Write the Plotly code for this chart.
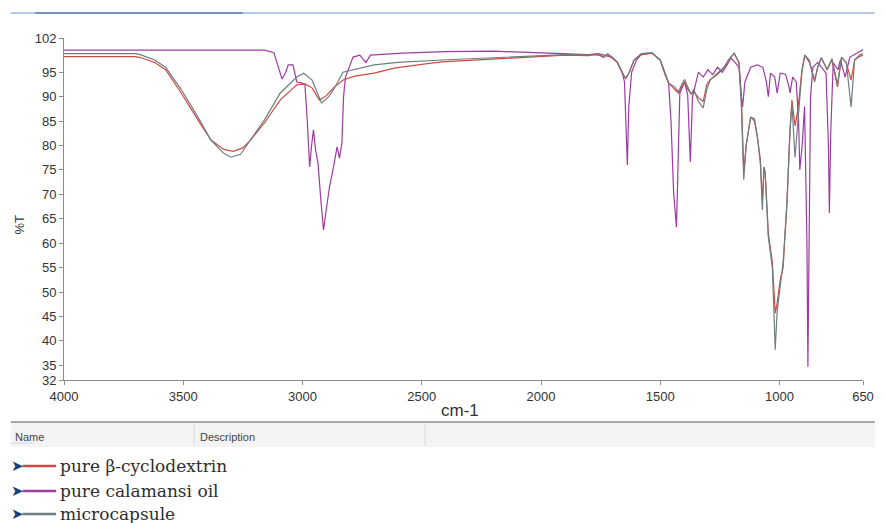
import plotly.graph_objects as go

# ---------------- data ----------------
series_names = ["pure β-cyclodextrin", "pure calamansi oil", "microcapsule"]
series_colors = ["#cf4a44", "#9c3ca3", "#6f7d80"]

wn_beta = [4000, 3700, 3680, 3620, 3574, 3508, 3438, 3384, 3330, 3290, 3250, 3218, 3160, 3094,
           3024, 2990, 2960, 2929, 2900, 2870, 2830, 2780, 2700, 2610, 2500, 2416, 2300, 2200,
           2100, 2000, 1900, 1800, 1760, 1740, 1720, 1700, 1680, 1660, 1645, 1630, 1610, 1580,
           1535, 1500, 1480, 1465, 1440, 1423, 1410, 1398, 1385, 1370, 1360, 1340, 1320, 1305,
           1290, 1260, 1233, 1215, 1204, 1190, 1170, 1160, 1150, 1140, 1121, 1105, 1093, 1080,
           1072, 1065, 1060, 1047, 1030, 1018, 1010, 997, 985, 969, 956, 948, 940, 935, 923,
           906, 894, 875, 853, 840, 825, 800, 780, 757, 740, 720, 700, 685, 665, 650]
t_beta = [98.2, 98.2, 98.0, 97.0, 95.5, 90.7, 85.2, 81.1, 79.2, 78.8, 79.5, 81.1, 84.6, 89.3,
          92.4, 92.6, 91.8, 89.3, 90.2, 91.8, 93.4, 94.2, 94.8, 95.9, 96.6, 97.1, 97.4, 97.7,
          97.9, 98.2, 98.5, 98.4, 98.8, 98.0, 98.6, 97.8, 97.0, 95.0, 93.6, 95.0, 97.5, 98.6,
          98.9, 97.5, 95.0, 92.8, 91.5, 90.7, 92.0, 93.0, 91.5, 90.5, 91.0, 89.8, 89.0, 92.5,
          93.5, 94.5, 96.0, 97.0, 98.1, 98.8, 97.0, 90.0, 74.5, 80.0, 85.8, 85.0, 81.7, 77.0,
          68.5, 75.6, 74.5, 62.0, 56.0, 45.7, 47.8, 52.5, 55.0, 68.2, 83.2, 89.3, 86.0, 84.0, 87.3,
          95.5, 98.5, 97.0, 93.4, 96.0, 97.9, 95.5, 97.5, 92.0, 98.1, 96.9, 93.4, 97.5, 98.2, 98.5]

wn_oil = [4000, 3800, 3500, 3160, 3120, 3100, 3086, 3070, 3060, 3040, 3030, 3024, 3005, 2990,
          2980, 2970, 2962, 2954, 2945, 2935, 2925, 2912, 2900, 2887, 2867, 2855, 2845, 2835,
          2828, 2820, 2788, 2760, 2734, 2715, 2580, 2400, 2200, 2000, 1900, 1800, 1760, 1720,
          1700, 1680, 1660, 1650, 1645, 1638, 1632, 1620, 1600, 1580, 1535, 1500, 1480, 1465,
          1455, 1444, 1432, 1425, 1418, 1398, 1385, 1374, 1365, 1340, 1320, 1300, 1280, 1260,
          1240, 1220, 1204, 1185, 1170, 1160, 1155, 1145, 1121, 1093, 1070, 1055, 1047, 1038,
          1020, 1010, 997, 975, 960, 956, 945, 930, 920, 915, 905, 895, 885, 881, 875, 870, 860,
          840, 805, 795, 791, 785, 775, 755, 745, 725, 705, 665, 650]
t_oil = [99.5, 99.5, 99.5, 99.5, 99.0, 96.0, 93.6, 95.0, 96.5, 96.5, 94.5, 93.0, 92.8, 92.5,
         85.0, 75.6, 80.0, 83.2, 79.0, 76.4, 70.0, 62.7, 67.0, 71.5, 76.4, 79.7, 77.4, 80.5,
         89.9, 94.0, 98.1, 98.5, 97.0, 98.5, 98.9, 99.2, 99.3, 99.0, 98.8, 98.6, 98.8, 98.2,
         98.0, 97.0, 95.0, 93.0, 85.0, 76.0, 88.0, 95.0, 97.5, 98.6, 98.9, 97.5, 94.5, 92.8,
         85.0, 70.3, 63.3, 80.0, 90.7, 93.0, 90.3, 76.6, 89.9, 95.0, 94.0, 95.5, 94.5, 96.0,
         95.0, 96.5, 97.9, 96.9, 96.0, 90.0, 87.9, 93.0, 96.0, 96.5, 96.0, 93.0, 90.0, 94.8,
         94.0, 90.7, 94.8, 94.6, 92.0, 90.7, 94.0, 93.0, 85.0, 75.0, 80.0, 88.0, 60.0, 34.7,
         60.0, 90.0, 96.0, 97.0, 94.8, 80.0, 66.2, 83.0, 96.9, 95.5, 97.5, 94.0, 98.1, 99.2, 99.6]

wn_micro = [4000, 3700, 3680, 3620, 3574, 3508, 3438, 3384, 3330, 3301, 3260, 3218, 3160, 3094,
            3024, 2995, 2960, 2920, 2890, 2870, 2830, 2700, 2600, 2416, 2200, 2000, 1900, 1800,
            1760, 1740, 1720, 1700, 1680, 1660, 1645, 1630, 1610, 1580, 1535, 1500, 1480, 1465,
            1440, 1423, 1410, 1398, 1385, 1370, 1360, 1340, 1320, 1305, 1290, 1260, 1233, 1215,
            1204, 1190, 1170, 1160, 1150, 1140, 1121, 1105, 1093, 1080, 1072, 1065, 1060, 1047,
            1030, 1018, 1010, 997, 985, 969, 956, 948, 940, 935, 923, 906, 894, 875, 853, 840,
            825, 800, 780, 757, 740, 720, 700, 685, 665, 650]
t_micro = [98.8, 98.8, 98.6, 97.5, 96.0, 91.4, 85.8, 81.1, 78.4, 77.6, 78.2, 81.1, 85.2, 90.7,
           94.0, 94.8, 93.4, 88.7, 90.0, 91.4, 95.0, 96.5, 97.0, 97.5, 98.0, 98.4, 98.6, 98.6,
           98.5, 98.2, 98.8, 98.0, 97.0, 95.0, 93.8, 95.0, 97.5, 98.8, 99.0, 97.5, 95.0, 92.8,
           92.0, 91.0, 92.5, 93.5, 92.0, 90.5, 91.5, 89.0, 87.7, 91.5, 93.5, 94.8, 96.0, 97.5,
           98.1, 98.9, 97.0, 88.0, 73.0, 80.0, 85.8, 85.5, 82.0, 76.0, 66.8, 75.6, 74.0, 61.3,
           55.0, 38.2, 46.0, 51.0, 56.0, 68.0, 83.0, 88.5, 82.0, 77.6, 85.0, 95.0, 98.5, 97.5,
           93.0, 96.0, 98.0, 95.5, 97.8, 92.5, 98.0, 97.0, 87.9, 97.5, 98.5, 98.8]

x_ticks = [4000, 3500, 3000, 2500, 2000, 1500, 1000, 650]
y_ticks = [32, 35, 40, 45, 50, 55, 60, 65, 70, 75, 80, 85, 90, 95, 102]
x_title = "cm-1"
y_title = "%T"
header_labels = ["Name", "Description"]

# ---------------- figure ----------------
W, H = 886, 523
ML, MR, MT, MB = 64, 12, 38, 143
PW, PH = W - ML - MR, H - MT - MB


def px(x):
    return (x - ML) / PW


def py(y):
    return (H - MB - y) / PH


fig = go.Figure()
for wn, t, name, col in [(wn_oil, t_oil, series_names[1], series_colors[1]),
                         (wn_beta, t_beta, series_names[0], series_colors[0]),
                         (wn_micro, t_micro, series_names[2], series_colors[2])]:
    fig.add_trace(go.Scatter(x=wn, y=t, mode="lines", name=name,
                             line=dict(color=col, width=1.2), showlegend=False))

tick_font = dict(family="Liberation Sans Narrow, Arial Narrow, Liberation Sans, Arial",
                 size=13, color="#333333")

fig.update_layout(
    width=W, height=H,
    margin=dict(l=ML, r=MR, t=MT, b=MB),
    paper_bgcolor="white", plot_bgcolor="white",
    xaxis=dict(range=[4000, 650], tickvals=x_ticks, ticktext=[str(v) for v in x_ticks],
               showgrid=False, zeroline=False, showline=True, linecolor="#8c8c8c",
               linewidth=1, ticks="outside", ticklen=4, tickcolor="#8c8c8c",
               tickfont=tick_font),
    yaxis=dict(range=[32, 102], tickvals=y_ticks, ticktext=[str(v) for v in y_ticks],
               showgrid=False, zeroline=False, showline=True, linecolor="#8c8c8c",
               linewidth=1, ticks="outside", ticklen=4, tickcolor="#8c8c8c",
               tickfont=tick_font),
)

shapes = []
annos = []

# top blue bar
shapes.append(dict(type="line", xref="paper", yref="paper", x0=px(10), x1=px(886),
                   y0=py(13), y1=py(13), line=dict(color="#b4c8ea", width=2)))
shapes.append(dict(type="line", xref="paper", yref="paper", x0=px(35), x1=px(245),
                   y0=py(13), y1=py(13), line=dict(color="#7391c4", width=2)))

# axis titles
annos.append(dict(text=x_title, xref="paper", yref="paper", x=px(465), y=py(410),
                  xanchor="center", yanchor="middle", showarrow=False,
                  font=dict(family="Liberation Sans Narrow, Liberation Sans, Arial",
                            size=17, color="#333333")))
annos.append(dict(text=y_title, xref="paper", yref="paper", x=px(18), y=py(225),
                  xanchor="center", yanchor="middle", showarrow=False, textangle=-90,
                  font=dict(family="Liberation Sans, Arial", size=13, color="#333333")))

# table header
shapes.append(dict(type="rect", xref="paper", yref="paper", x0=px(10), x1=px(886),
                   y0=py(447), y1=py(423), fillcolor="#f4f4f4", line=dict(width=0), layer="below"))
shapes.append(dict(type="line", xref="paper", yref="paper", x0=px(10), x1=px(886),
                   y0=py(422), y1=py(422), line=dict(color="#a6a6a6", width=2)))
for sx in [196, 430]:
    shapes.append(dict(type="line", xref="paper", yref="paper", x0=px(sx), x1=px(sx),
                       y0=py(446), y1=py(424), line=dict(color="#dadada", width=1)))
shapes.append(dict(type="line", xref="paper", yref="paper", x0=px(10), x1=px(34),
                   y0=py(443), y1=py(443), line=dict(color="#c9d8ee", width=1)))
for lbl, lx in zip(header_labels, [12, 200]):
    annos.append(dict(text=lbl, xref="paper", yref="paper", x=px(lx), y=py(437),
                      xanchor="left", yanchor="middle", showarrow=False,
                      font=dict(family="Liberation Sans Narrow, Liberation Sans, Arial",
                                size=11, color="#444444")))

# custom legend
rows_y = [466, 491, 514]
for name, col, ry in zip(series_names, series_colors, rows_y):
    annos.append(dict(text="➤", xref="paper", yref="paper", x=px(17), y=py(ry),
                      xanchor="center", yanchor="middle", showarrow=False,
                      font=dict(family="DejaVu Sans", size=15, color="#1d3d78")))
    shapes.append(dict(type="line", xref="paper", yref="paper", x0=px(22), x1=px(56),
                       y0=py(ry), y1=py(ry), line=dict(color=col, width=2.5)))
    annos.append(dict(text=name, xref="paper", yref="paper", x=px(58), y=py(ry),
                      xanchor="left", yanchor="middle", showarrow=False,
                      font=dict(family="DejaVu Serif", size=17, color="#2e2e2e")))

fig.update_layout(shapes=shapes, annotations=annos)
fig.write_html("out.html")
